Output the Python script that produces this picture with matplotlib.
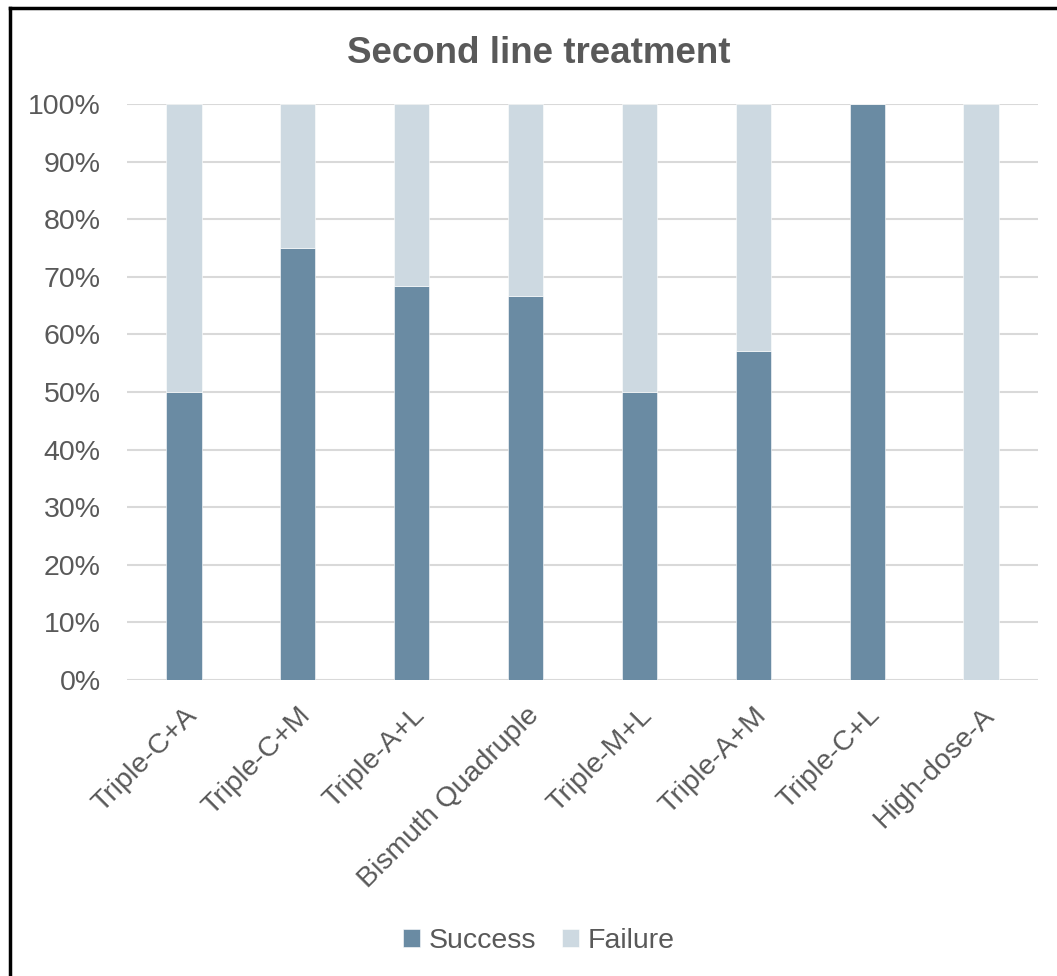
import matplotlib.pyplot as plt
from matplotlib.ticker import PercentFormatter
from matplotlib.lines import Line2D

plt.rcParams['font.family'] = ['Liberation Sans', 'DejaVu Sans']

regimens = ["Triple-C+A", "Triple-C+M", "Triple-A+L", "Bismuth Quadruple",
            "Triple-M+L", "Triple-A+M", "Triple-C+L", "High-dose-A"]
success = [50.0, 75.0, 68.4, 66.7, 50.0, 57.1, 100.0, 0.0]
failure = [100 - s for s in success]

c_success = "#6a8ba3"
c_failure = "#cdd9e1"
c_text = "#595959"

fig = plt.figure(figsize=(10.57, 9.76), dpi=100)
ax = fig.add_axes([0.1202, 0.3033, 0.8618, 0.5901])

x = range(len(regimens))
ax.bar(x, success, width=0.31, color=c_success, edgecolor="white", linewidth=0.4,
       label="Success", zorder=3)
ax.bar(x, failure, width=0.31, bottom=success, color=c_failure, edgecolor="white",
       linewidth=0.4, label="Failure", zorder=3)

ax.set_xlim(-0.5, len(regimens) - 0.5)
ax.set_ylim(0, 100)
ax.set_yticks(range(0, 101, 10))
ax.yaxis.set_major_formatter(PercentFormatter(decimals=0))
ax.grid(axis="y", color="#d9d9d9", linewidth=1.5, zorder=0)
for s in ax.spines.values():
    s.set_visible(False)
ax.tick_params(axis="both", length=0, labelsize=20.5, labelcolor=c_text)
ax.tick_params(axis="y", pad=19)
ax.set_xticks(list(x))
ax.set_xticklabels(regimens, rotation=45, ha="right", rotation_mode="anchor")
ax.tick_params(axis="x", pad=16)

fig.text(0.51, 0.945, "Second line treatment", ha="center", va="center",
         fontsize=26.5, fontweight="bold", color=c_text)

ax.legend(loc="center", bbox_to_anchor=(0.51, 0.036), bbox_transform=fig.transFigure,
          ncol=2, frameon=False, fontsize=20.5, labelcolor=c_text,
          handlelength=0.6, handleheight=0.6, handletextpad=0.3, columnspacing=0.9)

# outer frame (left and top edges fall inside the canvas)
fig.add_artist(Line2D([0.0095, 0.0095], [0, 0.992], transform=fig.transFigure,
                      color="black", linewidth=2.5))
fig.add_artist(Line2D([0.0095, 1.0], [0.992, 0.992], transform=fig.transFigure,
                      color="black", linewidth=2.5))

fig.savefig("out.png", dpi=100)
